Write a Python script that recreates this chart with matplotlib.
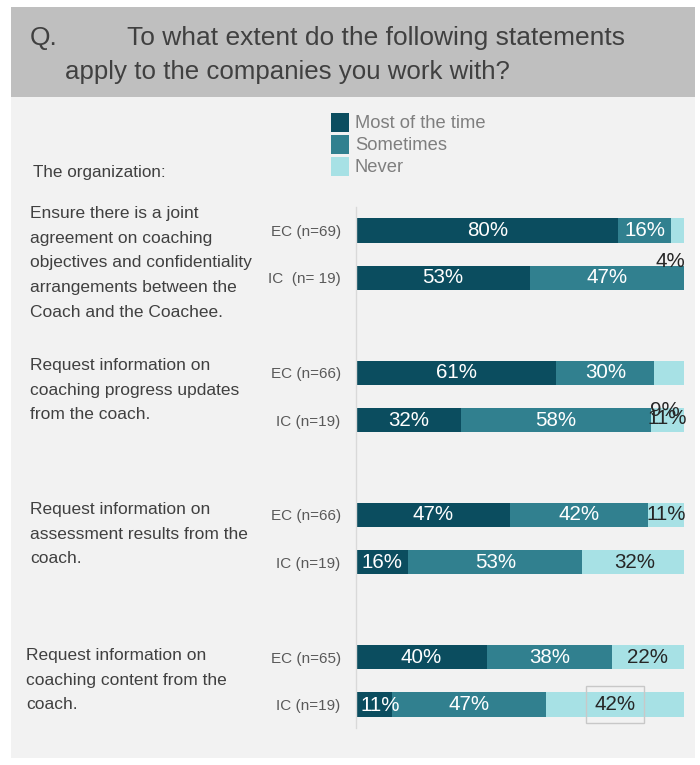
import matplotlib
matplotlib.use("Agg")
import matplotlib.pyplot as plt
from matplotlib.patches import Rectangle
import numpy as np

plt.rcParams['font.family'] = ['Liberation Sans', 'DejaVu Sans']

# ---- data ----
series_names = ["Most of the time", "Sometimes", "Never"]
row_labels = ["EC (n=69)", "IC  (n= 19)",
              "EC (n=66)", "IC (n=19)",
              "EC (n=66)", "IC (n=19)",
              "EC (n=65)", "IC (n=19)"]
most_of_time = [80, 53, 61, 32, 47, 16, 40, 11]
sometimes = [16, 47, 30, 58, 42, 53, 38, 47]
never = [4, 0, 9, 11, 11, 32, 22, 42]
statements = [
    "Ensure there is a joint\nagreement on coaching\nobjectives and confidentiality\narrangements between the\nCoach and the Coachee.",
    "Request information on\ncoaching progress updates\nfrom the coach.",
    "Request information on\nassessment results from the\ncoach.",
    "Request information on\ncoaching content from the\ncoach.",
]

colors = ["#0b4d5f", "#31808f", "#a7e1e5"]
label_colors = ["white", "white", "#262626"]

W, H = 700, 765
fig = plt.figure(figsize=(W / 100, H / 100), dpi=100)
fig.patch.set_facecolor("white")


def fx(x):
    return x / W


def fy(y):
    return 1 - y / H


# background panels
fig.patches.append(Rectangle((fx(11), fy(758)), fx(695) - fx(11), fy(97) - fy(758),
                             transform=fig.transFigure, fc="#f2f2f2", ec="none", zorder=-2))
fig.patches.append(Rectangle((fx(11), fy(97)), fx(695) - fx(11), fy(7) - fy(97),
                             transform=fig.transFigure, fc="#bfbfbf", ec="none", zorder=-2))

# title
fig.text(fx(30), fy(38), "Q.", fontsize=19, color="#404040", va="center", ha="left")
fig.text(fx(127), fy(38), "To what extent do the following statements",
         fontsize=19, color="#404040", va="center", ha="left")
fig.text(fx(65), fy(72), "apply to the companies you work with?",
         fontsize=18.6, color="#404040", va="center", ha="left")

# main axes: rows spaced by 47.4 px, bars 0..100 mapped to x 356..684
row_px = 47.4
y0_px = 230.5
top_px = y0_px - 0.5 * row_px
bot_px = y0_px + 10.5 * row_px
ax = fig.add_axes([fx(356), fy(bot_px), fx(684) - fx(356), fy(top_px) - fy(bot_px)])
ax.set_zorder(2)
ax.set_facecolor("none")
ax.set_xlim(0, 100)
ax.set_ylim(10.5, -0.5)

n = len(row_labels)
groups = np.arange(n) // 2
rows = np.arange(n) % 2
ypos = groups * 3 + rows

series = [np.array(most_of_time), np.array(sometimes), np.array(never)]
left = np.zeros(n)
bar_h = 0.51
for vals, c in zip(series, colors):
    ax.barh(ypos, vals, left=left, height=bar_h, color=c, edgecolor="none", zorder=2)
    left = left + vals

# value labels (offsets for crowded small segments)
offsets = {(0, 2): (-2.3, 0.66), (2, 2): (-1.3, 0.79), (3, 2): (-0.7, -0.03),
           (7, 0): (1.8, 0.03)}
boxed = {(7, 2)}
left = np.zeros(n)
for s, vals in enumerate(series):
    for i in range(n):
        v = vals[i]
        if v > 0:
            cx = left[i] + v / 2
            cy = ypos[i]
            dx, dy = offsets.get((i, s), (0, 0))
            kw = {}
            if (i, s) in boxed:
                kw["bbox"] = dict(boxstyle="square,pad=0.42", fc="none", ec="#c8c8c8", lw=1)
            ax.text(cx + dx, cy + dy, f"{v}%", ha="center", va="center",
                    fontsize=14.8, color=label_colors[s], zorder=3, clip_on=False, **kw)
    left = left + vals

ax.set_yticks(ypos)
ax.set_yticklabels(row_labels, fontsize=11, color="#595959")
ax.tick_params(axis="y", length=0, pad=11)
ax.set_xticks([])
for sp in ["top", "right", "bottom"]:
    ax.spines[sp].set_visible(False)
ax.spines["left"].set_color("#d9d9d9")
ax.spines["left"].set_linewidth(1)

# legend
leg_tops = [113, 135, 157]
for name, c, t in zip(series_names, colors, leg_tops):
    fig.patches.append(Rectangle((fx(331), fy(t + 19)), fx(349) - fx(331), fy(t) - fy(t + 19),
                                 transform=fig.transFigure, fc=c, ec="none"))
    fig.text(fx(355), fy(t + 10), name, fontsize=13.2, color="#7f7f7f", va="center", ha="left")

# statement texts
fig.text(fx(33), fy(172), "The organization:", fontsize=12.3, color="#404040", va="center")
text_pos = [(30, 206), (30, 358), (30, 502), (26, 648)]
for (x, y), s in zip(text_pos, statements):
    fig.text(fx(x), fy(y), s, fontsize=12.5, color="#404040", va="top", ha="left",
             linespacing=1.81)

fig.savefig("out.png", dpi=100, facecolor=fig.get_facecolor())
